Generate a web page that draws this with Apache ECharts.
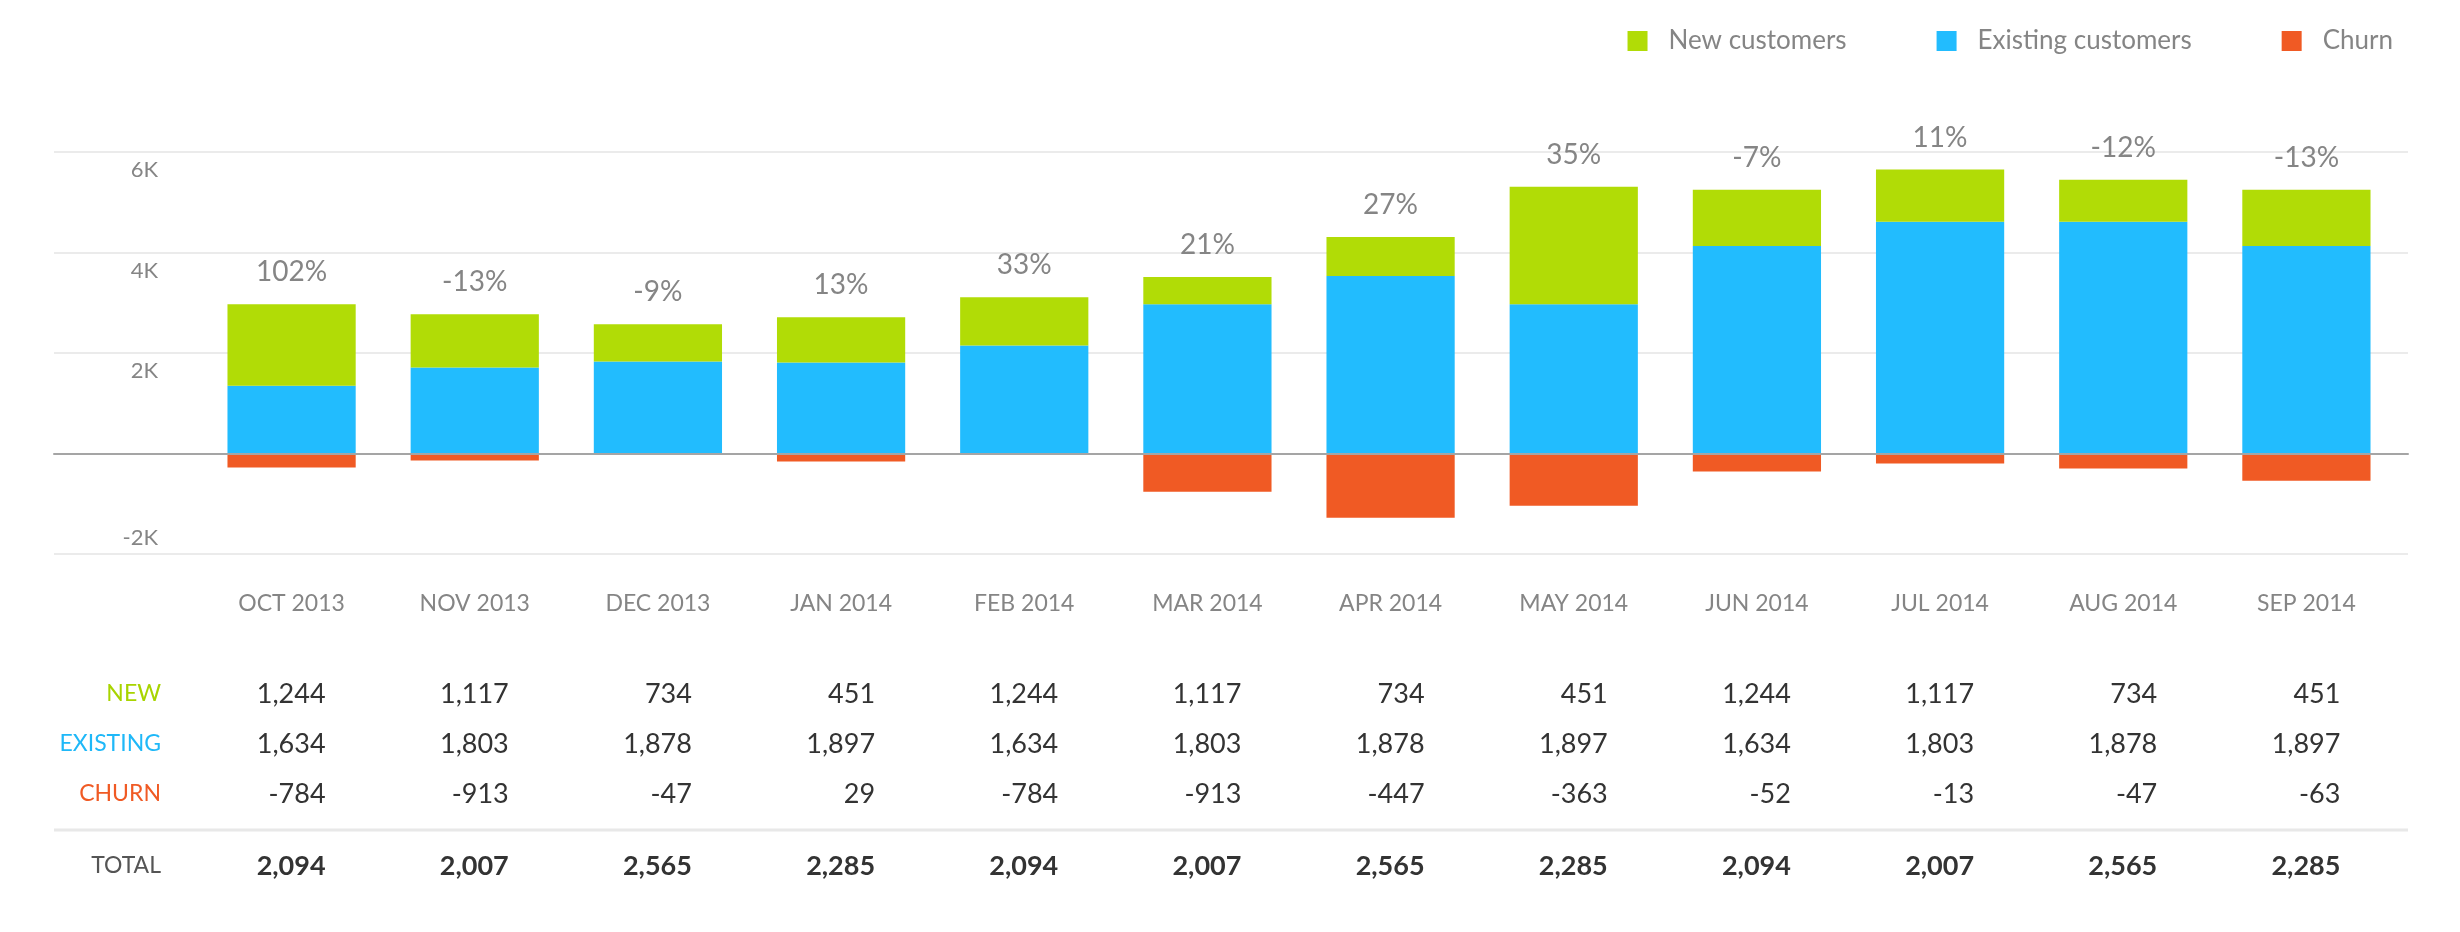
<!DOCTYPE html>
<html>
<head>
<meta charset="utf-8">
<script src="https://cdn.jsdelivr.net/npm/echarts@6/dist/echarts.min.js"></script>
<style>
	html, body { margin: 0; padding: 0; background: #fff; }
	#chart { width: 2460px; height: 932px; }
</style>
</head>
<body>
<div id="chart"></div>
<script>
const months = ['OCT 2013', 'NOV 2013', 'DEC 2013', 'JAN 2014', 'FEB 2014', 'MAR 2014', 'APR 2014', 'MAY 2014', 'JUN 2014', 'JUL 2014', 'AUG 2014', 'SEP 2014'];
const existingBars = [1350, 1710, 1830, 1810, 2150, 2970, 3530, 2970, 4130, 4610, 4610, 4130];
const newBars = [1620, 1060, 740, 900, 960, 540, 780, 2340, 1120, 1040, 840, 1120];
const churnBars = [-280, -140, 0, -160, 0, -760, -1280, -1040, -360, -200, -300, -540];
const growth = ['102%', '-13%', '-9%', '13%', '33%', '21%', '27%', '35%', '-7%', '11%', '-12%', '-13%'];

const tableNew = [1244, 1117, 734, 451, 1244, 1117, 734, 451, 1244, 1117, 734, 451];
const tableExisting = [1634, 1803, 1878, 1897, 1634, 1803, 1878, 1897, 1634, 1803, 1878, 1897];
const tableChurn = [-784, -913, -47, 29, -784, -913, -447, -363, -52, -13, -47, -63];
const tableTotal = [2094, 2007, 2565, 2285, 2094, 2007, 2565, 2285, 2094, 2007, 2565, 2285];

const GREEN = '#b1dc06';
const BLUE = '#22bcfe';
const ORANGE = '#f05a24';
const GRAY = '#858585';
const FONT = 'Lato';

const fmt = (n) => n.toLocaleString('en-US');

// one x axis per table row, sitting under the bars grid
const tableRow = (name, color, values, offset, bold) => ({
	type: 'category',
	gridIndex: 2,
	position: 'bottom',
	offset: offset,
	data: months,
	axisLine: { show: false, onZero: false },
	axisTick: { show: false },
	axisLabel: {
		interval: 0,
		margin: 0,
		align: 'right',
		verticalAlign: 'middle',
		color: '#333',
		fontFamily: FONT,
		fontSize: 27,
		fontWeight: bold ? 'bold' : 'normal',
		formatter: (v, i) => fmt(values[i]),
	},
	name: name,
	nameLocation: 'start',
	nameGap: 73,
	nameMoveOverlap: false,
	nameTextStyle: {
		color: color,
		fontFamily: FONT,
		fontSize: 23,
		align: 'right',
		verticalAlign: 'middle',
	},
});

const chart = echarts.init(document.getElementById('chart'));
chart.setOption({
	animation: false,
	textStyle: { fontFamily: FONT },
	legend: {
		data: ['New customers', 'Existing customers', 'Churn'],
		right: 62,
		top: 23,
		icon: 'rect',
		itemWidth: 20,
		itemHeight: 20,
		itemGap: 90,
		textStyle: { color: GRAY, fontSize: 26, fontFamily: FONT, padding: [0, 0, 0, 16] },
	},
	grid: [
		{ left: 54, right: 52, top: 152, bottom: 378, outerBoundsMode: 'none' },
		{ left: 200, right: 62, top: 152, bottom: 378, outerBoundsMode: 'none' },
		{ left: 234, right: 28, top: 152, bottom: 378, outerBoundsMode: 'none' },
	],
	xAxis: [
		{
			type: 'value', gridIndex: 0, min: 0, max: 1, z: 5,
			axisLine: { show: true, onZero: true, lineStyle: { color: '#a5a5a5', width: 2 } },
			axisTick: { show: false }, axisLabel: { show: false }, splitLine: { show: false },
		},
		{
			type: 'category', gridIndex: 1, position: 'bottom', data: months,
			axisLine: { show: false, onZero: false }, axisTick: { show: false },
			axisLabel: { interval: 0, margin: 38, color: GRAY, fontSize: 23, fontFamily: FONT },
		},
		tableRow('NEW', '#a8d400', tableNew, 140, false),
		tableRow('EXISTING', '#1fb8f8', tableExisting, 190, false),
		tableRow('CHURN', ORANGE, tableChurn, 240, false),
		tableRow('TOTAL', '#555', tableTotal, 312, true),
	],
	yAxis: [
		{
			type: 'value', gridIndex: 0, min: -2000, max: 6000, interval: 2000,
			axisLine: { show: false }, axisTick: { show: false }, axisLabel: { show: false },
			splitLine: { show: true, lineStyle: { color: '#ebebeb', width: 2 } },
		},
		{
			type: 'value', gridIndex: 1, position: 'left', min: -2000, max: 6000, interval: 2000,
			axisLine: { show: false }, axisTick: { show: false }, splitLine: { show: false },
			axisLabel: {
				margin: 42, color: GRAY, fontSize: 22, fontFamily: FONT,
				verticalAlign: 'top', lineHeight: 36,
				formatter: (v) => (v > 0 ? v / 1000 + 'K' : ''),
			},
		},
		{
			type: 'value', gridIndex: 1, position: 'left', min: -2000, max: 6000, interval: 2000,
			axisLine: { show: false }, axisTick: { show: false }, splitLine: { show: false },
			axisLabel: {
				margin: 42, color: GRAY, fontSize: 22, fontFamily: FONT,
				verticalAlign: 'bottom', lineHeight: 32,
				formatter: (v) => (v < 0 ? v / 1000 + 'K' : ''),
			},
		},
		{ type: 'value', gridIndex: 2, show: false },
	],
	series: [
		{
			name: 'Existing customers', type: 'bar', stack: 'c',
			xAxisIndex: 1, yAxisIndex: 1, barWidth: '70%',
			itemStyle: { color: BLUE }, data: existingBars,
		},
		{
			name: 'New customers', type: 'bar', stack: 'c',
			xAxisIndex: 1, yAxisIndex: 1, barWidth: '70%',
			itemStyle: { color: GREEN }, data: newBars,
			label: {
				show: true, position: 'top', distance: 18,
				color: GRAY, fontSize: 28, fontFamily: FONT,
				formatter: (p) => growth[p.dataIndex],
			},
		},
		{
			name: 'Churn', type: 'bar', stack: 'c',
			xAxisIndex: 1, yAxisIndex: 1, barWidth: '70%',
			itemStyle: { color: ORANGE }, data: churnBars,
		},
	],
	graphic: [{
		type: 'line',
		shape: { x1: 54, y1: 830, x2: 2408, y2: 830 },
		style: { stroke: '#e8e8e8', lineWidth: 3 },
	}],
});
</script>
</body>
</html>
